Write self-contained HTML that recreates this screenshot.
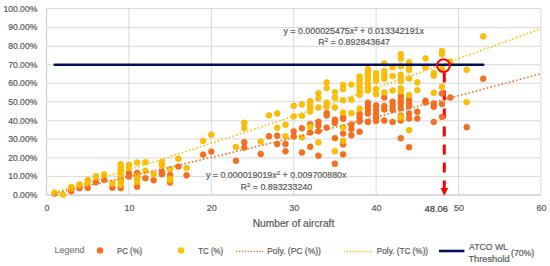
<!DOCTYPE html>
<html><head><meta charset="utf-8"><style>
html,body{margin:0;padding:0;background:#fff;width:550px;height:266px;overflow:hidden}
svg{display:block;font-family:"Liberation Sans", sans-serif}
</style></head><body>
<svg width="550" height="266" viewBox="0 0 550 266">
<rect width="550" height="266" fill="#fff"/>
<line x1="46.5" y1="195.10" x2="540.90" y2="195.10" stroke="#D9D9D9" stroke-width="1"/>
<line x1="46.5" y1="176.40" x2="540.90" y2="176.40" stroke="#D9D9D9" stroke-width="1"/>
<line x1="46.5" y1="157.90" x2="540.90" y2="157.90" stroke="#D9D9D9" stroke-width="1"/>
<line x1="46.5" y1="138.90" x2="540.90" y2="138.90" stroke="#D9D9D9" stroke-width="1"/>
<line x1="46.5" y1="120.80" x2="540.90" y2="120.80" stroke="#D9D9D9" stroke-width="1"/>
<line x1="46.5" y1="101.70" x2="540.90" y2="101.70" stroke="#D9D9D9" stroke-width="1"/>
<line x1="46.5" y1="83.30" x2="540.90" y2="83.30" stroke="#D9D9D9" stroke-width="1"/>
<line x1="46.5" y1="64.70" x2="540.90" y2="64.70" stroke="#D9D9D9" stroke-width="1"/>
<line x1="46.5" y1="46.30" x2="540.90" y2="46.30" stroke="#D9D9D9" stroke-width="1"/>
<line x1="46.5" y1="27.50" x2="540.90" y2="27.50" stroke="#D9D9D9" stroke-width="1"/>
<line x1="46.5" y1="8.50" x2="540.90" y2="8.50" stroke="#D9D9D9" stroke-width="1"/>
<rect x="205.5" y="175" width="141.5" height="2.8" fill="#fff"/>
<line x1="128.90" y1="8.50" x2="128.90" y2="195.0" stroke="#D9D9D9" stroke-width="1"/>
<line x1="211.30" y1="8.50" x2="211.30" y2="195.0" stroke="#D9D9D9" stroke-width="1"/>
<line x1="293.70" y1="8.50" x2="293.70" y2="195.0" stroke="#D9D9D9" stroke-width="1"/>
<line x1="376.10" y1="8.50" x2="376.10" y2="195.0" stroke="#D9D9D9" stroke-width="1"/>
<line x1="458.50" y1="8.50" x2="458.50" y2="195.0" stroke="#D9D9D9" stroke-width="1"/>
<line x1="540.90" y1="8.50" x2="540.90" y2="195.0" stroke="#D9D9D9" stroke-width="1"/>
<line x1="46.5" y1="8.50" x2="46.5" y2="195.0" stroke="#C8C8C8" stroke-width="1"/>
<line x1="46.5" y1="195.0" x2="540.90" y2="195.0" stroke="#C8C8C8" stroke-width="1"/>
<line x1="444.3" y1="72.5" x2="444.3" y2="189" stroke="#FF0000" stroke-width="3" stroke-dasharray="10 8"/>
<circle cx="54.7" cy="193.5" r="2.95" fill="#FA6F1E" stroke="#E8600F" stroke-width="0.5"/>
<circle cx="71.2" cy="191.2" r="2.95" fill="#FA6F1E" stroke="#E8600F" stroke-width="0.5"/>
<circle cx="79.5" cy="188.2" r="2.95" fill="#FA6F1E" stroke="#E8600F" stroke-width="0.5"/>
<circle cx="87.7" cy="187.9" r="2.95" fill="#FA6F1E" stroke="#E8600F" stroke-width="0.5"/>
<circle cx="95.9" cy="182.3" r="2.95" fill="#FA6F1E" stroke="#E8600F" stroke-width="0.5"/>
<circle cx="104.2" cy="179.8" r="2.95" fill="#FA6F1E" stroke="#E8600F" stroke-width="0.5"/>
<circle cx="112.4" cy="187.8" r="2.95" fill="#FA6F1E" stroke="#E8600F" stroke-width="0.5"/>
<circle cx="120.7" cy="188.1" r="2.95" fill="#FA6F1E" stroke="#E8600F" stroke-width="0.5"/>
<circle cx="120.7" cy="180" r="2.95" fill="#FA6F1E" stroke="#E8600F" stroke-width="0.5"/>
<circle cx="128.9" cy="173.2" r="2.95" fill="#FA6F1E" stroke="#E8600F" stroke-width="0.5"/>
<circle cx="128.9" cy="176.5" r="2.95" fill="#FA6F1E" stroke="#E8600F" stroke-width="0.5"/>
<circle cx="137.1" cy="172.9" r="2.95" fill="#FA6F1E" stroke="#E8600F" stroke-width="0.5"/>
<circle cx="137.1" cy="176.5" r="2.95" fill="#FA6F1E" stroke="#E8600F" stroke-width="0.5"/>
<circle cx="137.1" cy="186.8" r="2.95" fill="#FA6F1E" stroke="#E8600F" stroke-width="0.5"/>
<circle cx="145.4" cy="178.2" r="2.95" fill="#FA6F1E" stroke="#E8600F" stroke-width="0.5"/>
<circle cx="153.6" cy="180.2" r="2.95" fill="#FA6F1E" stroke="#E8600F" stroke-width="0.5"/>
<circle cx="161.9" cy="171.8" r="2.95" fill="#FA6F1E" stroke="#E8600F" stroke-width="0.5"/>
<circle cx="161.9" cy="174.2" r="2.95" fill="#FA6F1E" stroke="#E8600F" stroke-width="0.5"/>
<circle cx="170.1" cy="175" r="2.95" fill="#FA6F1E" stroke="#E8600F" stroke-width="0.5"/>
<circle cx="170.1" cy="182.6" r="2.95" fill="#FA6F1E" stroke="#E8600F" stroke-width="0.5"/>
<circle cx="178.3" cy="166.6" r="2.95" fill="#FA6F1E" stroke="#E8600F" stroke-width="0.5"/>
<circle cx="186.6" cy="175.3" r="2.95" fill="#FA6F1E" stroke="#E8600F" stroke-width="0.5"/>
<circle cx="203.1" cy="154.6" r="2.95" fill="#FA6F1E" stroke="#E8600F" stroke-width="0.5"/>
<circle cx="211.3" cy="151.6" r="2.95" fill="#FA6F1E" stroke="#E8600F" stroke-width="0.5"/>
<circle cx="236.0" cy="160.8" r="2.95" fill="#FA6F1E" stroke="#E8600F" stroke-width="0.5"/>
<circle cx="244.3" cy="142.2" r="2.95" fill="#FA6F1E" stroke="#E8600F" stroke-width="0.5"/>
<circle cx="244.3" cy="147.6" r="2.95" fill="#FA6F1E" stroke="#E8600F" stroke-width="0.5"/>
<circle cx="260.7" cy="154" r="2.95" fill="#FA6F1E" stroke="#E8600F" stroke-width="0.5"/>
<circle cx="269.0" cy="136.3" r="2.95" fill="#FA6F1E" stroke="#E8600F" stroke-width="0.5"/>
<circle cx="277.2" cy="135.8" r="2.95" fill="#FA6F1E" stroke="#E8600F" stroke-width="0.5"/>
<circle cx="277.2" cy="144" r="2.95" fill="#FA6F1E" stroke="#E8600F" stroke-width="0.5"/>
<circle cx="285.5" cy="143.9" r="2.95" fill="#FA6F1E" stroke="#E8600F" stroke-width="0.5"/>
<circle cx="285.5" cy="151.2" r="2.95" fill="#FA6F1E" stroke="#E8600F" stroke-width="0.5"/>
<circle cx="293.7" cy="131.4" r="2.95" fill="#FA6F1E" stroke="#E8600F" stroke-width="0.5"/>
<circle cx="293.7" cy="136.6" r="2.95" fill="#FA6F1E" stroke="#E8600F" stroke-width="0.5"/>
<circle cx="301.9" cy="128.3" r="2.95" fill="#FA6F1E" stroke="#E8600F" stroke-width="0.5"/>
<circle cx="301.9" cy="152.5" r="2.95" fill="#FA6F1E" stroke="#E8600F" stroke-width="0.5"/>
<circle cx="310.2" cy="124.2" r="2.95" fill="#FA6F1E" stroke="#E8600F" stroke-width="0.5"/>
<circle cx="310.2" cy="132.5" r="2.95" fill="#FA6F1E" stroke="#E8600F" stroke-width="0.5"/>
<circle cx="310.2" cy="146.8" r="2.95" fill="#FA6F1E" stroke="#E8600F" stroke-width="0.5"/>
<circle cx="318.4" cy="121.7" r="2.95" fill="#FA6F1E" stroke="#E8600F" stroke-width="0.5"/>
<circle cx="318.4" cy="125.5" r="2.95" fill="#FA6F1E" stroke="#E8600F" stroke-width="0.5"/>
<circle cx="318.4" cy="131.3" r="2.95" fill="#FA6F1E" stroke="#E8600F" stroke-width="0.5"/>
<circle cx="318.4" cy="155.7" r="2.95" fill="#FA6F1E" stroke="#E8600F" stroke-width="0.5"/>
<circle cx="326.7" cy="113" r="2.95" fill="#FA6F1E" stroke="#E8600F" stroke-width="0.5"/>
<circle cx="326.7" cy="115.5" r="2.95" fill="#FA6F1E" stroke="#E8600F" stroke-width="0.5"/>
<circle cx="326.7" cy="127.6" r="2.95" fill="#FA6F1E" stroke="#E8600F" stroke-width="0.5"/>
<circle cx="334.9" cy="119.7" r="2.95" fill="#FA6F1E" stroke="#E8600F" stroke-width="0.5"/>
<circle cx="334.9" cy="123" r="2.95" fill="#FA6F1E" stroke="#E8600F" stroke-width="0.5"/>
<circle cx="334.9" cy="138.1" r="2.95" fill="#FA6F1E" stroke="#E8600F" stroke-width="0.5"/>
<circle cx="334.9" cy="163.7" r="2.95" fill="#FA6F1E" stroke="#E8600F" stroke-width="0.5"/>
<circle cx="343.1" cy="117.4" r="2.95" fill="#FA6F1E" stroke="#E8600F" stroke-width="0.5"/>
<circle cx="343.1" cy="118.8" r="2.95" fill="#FA6F1E" stroke="#E8600F" stroke-width="0.5"/>
<circle cx="343.1" cy="133.6" r="2.95" fill="#FA6F1E" stroke="#E8600F" stroke-width="0.5"/>
<circle cx="343.1" cy="144.4" r="2.95" fill="#FA6F1E" stroke="#E8600F" stroke-width="0.5"/>
<circle cx="343.1" cy="154.4" r="2.95" fill="#FA6F1E" stroke="#E8600F" stroke-width="0.5"/>
<circle cx="351.4" cy="124.4" r="2.95" fill="#FA6F1E" stroke="#E8600F" stroke-width="0.5"/>
<circle cx="351.4" cy="129.1" r="2.95" fill="#FA6F1E" stroke="#E8600F" stroke-width="0.5"/>
<circle cx="351.4" cy="135.3" r="2.95" fill="#FA6F1E" stroke="#E8600F" stroke-width="0.5"/>
<circle cx="359.6" cy="113.9" r="2.95" fill="#FA6F1E" stroke="#E8600F" stroke-width="0.5"/>
<circle cx="359.6" cy="117.5" r="2.95" fill="#FA6F1E" stroke="#E8600F" stroke-width="0.5"/>
<circle cx="359.6" cy="121.5" r="2.95" fill="#FA6F1E" stroke="#E8600F" stroke-width="0.5"/>
<circle cx="359.6" cy="131.7" r="2.95" fill="#FA6F1E" stroke="#E8600F" stroke-width="0.5"/>
<circle cx="367.9" cy="102.8" r="2.95" fill="#FA6F1E" stroke="#E8600F" stroke-width="0.5"/>
<circle cx="367.9" cy="106.4" r="2.95" fill="#FA6F1E" stroke="#E8600F" stroke-width="0.5"/>
<circle cx="367.9" cy="110" r="2.95" fill="#FA6F1E" stroke="#E8600F" stroke-width="0.5"/>
<circle cx="367.9" cy="113.6" r="2.95" fill="#FA6F1E" stroke="#E8600F" stroke-width="0.5"/>
<circle cx="367.9" cy="122" r="2.95" fill="#FA6F1E" stroke="#E8600F" stroke-width="0.5"/>
<circle cx="376.1" cy="105.5" r="2.95" fill="#FA6F1E" stroke="#E8600F" stroke-width="0.5"/>
<circle cx="376.1" cy="109.8" r="2.95" fill="#FA6F1E" stroke="#E8600F" stroke-width="0.5"/>
<circle cx="376.1" cy="113.5" r="2.95" fill="#FA6F1E" stroke="#E8600F" stroke-width="0.5"/>
<circle cx="376.1" cy="117.5" r="2.95" fill="#FA6F1E" stroke="#E8600F" stroke-width="0.5"/>
<circle cx="376.1" cy="121" r="2.95" fill="#FA6F1E" stroke="#E8600F" stroke-width="0.5"/>
<circle cx="384.3" cy="97.5" r="2.95" fill="#FA6F1E" stroke="#E8600F" stroke-width="0.5"/>
<circle cx="384.3" cy="106" r="2.95" fill="#FA6F1E" stroke="#E8600F" stroke-width="0.5"/>
<circle cx="384.3" cy="109.5" r="2.95" fill="#FA6F1E" stroke="#E8600F" stroke-width="0.5"/>
<circle cx="384.3" cy="120.5" r="2.95" fill="#FA6F1E" stroke="#E8600F" stroke-width="0.5"/>
<circle cx="392.6" cy="101.8" r="2.95" fill="#FA6F1E" stroke="#E8600F" stroke-width="0.5"/>
<circle cx="392.6" cy="105.7" r="2.95" fill="#FA6F1E" stroke="#E8600F" stroke-width="0.5"/>
<circle cx="392.6" cy="109.8" r="2.95" fill="#FA6F1E" stroke="#E8600F" stroke-width="0.5"/>
<circle cx="392.6" cy="122" r="2.95" fill="#FA6F1E" stroke="#E8600F" stroke-width="0.5"/>
<circle cx="400.8" cy="96" r="2.95" fill="#FA6F1E" stroke="#E8600F" stroke-width="0.5"/>
<circle cx="400.8" cy="99.7" r="2.95" fill="#FA6F1E" stroke="#E8600F" stroke-width="0.5"/>
<circle cx="400.8" cy="103.5" r="2.95" fill="#FA6F1E" stroke="#E8600F" stroke-width="0.5"/>
<circle cx="400.8" cy="108.2" r="2.95" fill="#FA6F1E" stroke="#E8600F" stroke-width="0.5"/>
<circle cx="400.8" cy="115.6" r="2.95" fill="#FA6F1E" stroke="#E8600F" stroke-width="0.5"/>
<circle cx="400.8" cy="120.6" r="2.95" fill="#FA6F1E" stroke="#E8600F" stroke-width="0.5"/>
<circle cx="400.8" cy="138.3" r="2.95" fill="#FA6F1E" stroke="#E8600F" stroke-width="0.5"/>
<circle cx="409.1" cy="99.7" r="2.95" fill="#FA6F1E" stroke="#E8600F" stroke-width="0.5"/>
<circle cx="409.1" cy="103.5" r="2.95" fill="#FA6F1E" stroke="#E8600F" stroke-width="0.5"/>
<circle cx="409.1" cy="106.3" r="2.95" fill="#FA6F1E" stroke="#E8600F" stroke-width="0.5"/>
<circle cx="409.1" cy="113.5" r="2.95" fill="#FA6F1E" stroke="#E8600F" stroke-width="0.5"/>
<circle cx="409.1" cy="118.5" r="2.95" fill="#FA6F1E" stroke="#E8600F" stroke-width="0.5"/>
<circle cx="409.1" cy="147.2" r="2.95" fill="#FA6F1E" stroke="#E8600F" stroke-width="0.5"/>
<circle cx="417.3" cy="111.8" r="2.95" fill="#FA6F1E" stroke="#E8600F" stroke-width="0.5"/>
<circle cx="417.3" cy="118.5" r="2.95" fill="#FA6F1E" stroke="#E8600F" stroke-width="0.5"/>
<circle cx="425.5" cy="100.7" r="2.95" fill="#FA6F1E" stroke="#E8600F" stroke-width="0.5"/>
<circle cx="425.5" cy="102.6" r="2.95" fill="#FA6F1E" stroke="#E8600F" stroke-width="0.5"/>
<circle cx="433.8" cy="103.5" r="2.95" fill="#FA6F1E" stroke="#E8600F" stroke-width="0.5"/>
<circle cx="433.8" cy="106.7" r="2.95" fill="#FA6F1E" stroke="#E8600F" stroke-width="0.5"/>
<circle cx="433.8" cy="121.9" r="2.95" fill="#FA6F1E" stroke="#E8600F" stroke-width="0.5"/>
<circle cx="442.0" cy="93.5" r="2.95" fill="#FA6F1E" stroke="#E8600F" stroke-width="0.5"/>
<circle cx="442.0" cy="104.1" r="2.95" fill="#FA6F1E" stroke="#E8600F" stroke-width="0.5"/>
<circle cx="442.0" cy="116.9" r="2.95" fill="#FA6F1E" stroke="#E8600F" stroke-width="0.5"/>
<circle cx="450.3" cy="97.5" r="2.95" fill="#FA6F1E" stroke="#E8600F" stroke-width="0.5"/>
<circle cx="466.7" cy="127.2" r="2.95" fill="#FA6F1E" stroke="#E8600F" stroke-width="0.5"/>
<circle cx="483.2" cy="78.8" r="2.95" fill="#FA6F1E" stroke="#E8600F" stroke-width="0.5"/>
<circle cx="54.7" cy="192.6" r="2.95" fill="#FFC000" stroke="#F5AC00" stroke-width="0.5"/>
<circle cx="63.0" cy="194.6" r="2.95" fill="#FFC000" stroke="#F5AC00" stroke-width="0.5"/>
<circle cx="71.2" cy="187" r="2.95" fill="#FFC000" stroke="#F5AC00" stroke-width="0.5"/>
<circle cx="71.2" cy="188.6" r="2.95" fill="#FFC000" stroke="#F5AC00" stroke-width="0.5"/>
<circle cx="79.5" cy="184.4" r="2.95" fill="#FFC000" stroke="#F5AC00" stroke-width="0.5"/>
<circle cx="79.5" cy="185.6" r="2.95" fill="#FFC000" stroke="#F5AC00" stroke-width="0.5"/>
<circle cx="87.7" cy="180" r="2.95" fill="#FFC000" stroke="#F5AC00" stroke-width="0.5"/>
<circle cx="87.7" cy="183.6" r="2.95" fill="#FFC000" stroke="#F5AC00" stroke-width="0.5"/>
<circle cx="95.9" cy="176.3" r="2.95" fill="#FFC000" stroke="#F5AC00" stroke-width="0.5"/>
<circle cx="104.2" cy="174.4" r="2.95" fill="#FFC000" stroke="#F5AC00" stroke-width="0.5"/>
<circle cx="112.4" cy="183.5" r="2.95" fill="#FFC000" stroke="#F5AC00" stroke-width="0.5"/>
<circle cx="120.7" cy="164.3" r="2.95" fill="#FFC000" stroke="#F5AC00" stroke-width="0.5"/>
<circle cx="120.7" cy="167" r="2.95" fill="#FFC000" stroke="#F5AC00" stroke-width="0.5"/>
<circle cx="120.7" cy="170" r="2.95" fill="#FFC000" stroke="#F5AC00" stroke-width="0.5"/>
<circle cx="120.7" cy="173.8" r="2.95" fill="#FFC000" stroke="#F5AC00" stroke-width="0.5"/>
<circle cx="120.7" cy="176.8" r="2.95" fill="#FFC000" stroke="#F5AC00" stroke-width="0.5"/>
<circle cx="120.7" cy="179.8" r="2.95" fill="#FFC000" stroke="#F5AC00" stroke-width="0.5"/>
<circle cx="120.7" cy="182.8" r="2.95" fill="#FFC000" stroke="#F5AC00" stroke-width="0.5"/>
<circle cx="120.7" cy="185" r="2.95" fill="#FFC000" stroke="#F5AC00" stroke-width="0.5"/>
<circle cx="128.9" cy="164.8" r="2.95" fill="#FFC000" stroke="#F5AC00" stroke-width="0.5"/>
<circle cx="128.9" cy="167.8" r="2.95" fill="#FFC000" stroke="#F5AC00" stroke-width="0.5"/>
<circle cx="137.1" cy="162.5" r="2.95" fill="#FFC000" stroke="#F5AC00" stroke-width="0.5"/>
<circle cx="137.1" cy="176" r="2.95" fill="#FFC000" stroke="#F5AC00" stroke-width="0.5"/>
<circle cx="137.1" cy="179" r="2.95" fill="#FFC000" stroke="#F5AC00" stroke-width="0.5"/>
<circle cx="137.1" cy="182" r="2.95" fill="#FFC000" stroke="#F5AC00" stroke-width="0.5"/>
<circle cx="145.4" cy="162.2" r="2.95" fill="#FFC000" stroke="#F5AC00" stroke-width="0.5"/>
<circle cx="145.4" cy="170.8" r="2.95" fill="#FFC000" stroke="#F5AC00" stroke-width="0.5"/>
<circle cx="153.6" cy="174.1" r="2.95" fill="#FFC000" stroke="#F5AC00" stroke-width="0.5"/>
<circle cx="161.9" cy="161.9" r="2.95" fill="#FFC000" stroke="#F5AC00" stroke-width="0.5"/>
<circle cx="161.9" cy="165.4" r="2.95" fill="#FFC000" stroke="#F5AC00" stroke-width="0.5"/>
<circle cx="170.1" cy="169.3" r="2.95" fill="#FFC000" stroke="#F5AC00" stroke-width="0.5"/>
<circle cx="170.1" cy="178.6" r="2.95" fill="#FFC000" stroke="#F5AC00" stroke-width="0.5"/>
<circle cx="170.1" cy="180.3" r="2.95" fill="#FFC000" stroke="#F5AC00" stroke-width="0.5"/>
<circle cx="178.3" cy="158.8" r="2.95" fill="#FFC000" stroke="#F5AC00" stroke-width="0.5"/>
<circle cx="186.6" cy="168.1" r="2.95" fill="#FFC000" stroke="#F5AC00" stroke-width="0.5"/>
<circle cx="203.1" cy="140.9" r="2.95" fill="#FFC000" stroke="#F5AC00" stroke-width="0.5"/>
<circle cx="211.3" cy="134.7" r="2.95" fill="#FFC000" stroke="#F5AC00" stroke-width="0.5"/>
<circle cx="236.0" cy="147" r="2.95" fill="#FFC000" stroke="#F5AC00" stroke-width="0.5"/>
<circle cx="244.3" cy="122.9" r="2.95" fill="#FFC000" stroke="#F5AC00" stroke-width="0.5"/>
<circle cx="244.3" cy="128.0" r="2.95" fill="#FFC000" stroke="#F5AC00" stroke-width="0.5"/>
<circle cx="260.7" cy="141.6" r="2.95" fill="#FFC000" stroke="#F5AC00" stroke-width="0.5"/>
<circle cx="269.0" cy="115.4" r="2.95" fill="#FFC000" stroke="#F5AC00" stroke-width="0.5"/>
<circle cx="277.2" cy="113.5" r="2.95" fill="#FFC000" stroke="#F5AC00" stroke-width="0.5"/>
<circle cx="277.2" cy="127.8" r="2.95" fill="#FFC000" stroke="#F5AC00" stroke-width="0.5"/>
<circle cx="285.5" cy="124.8" r="2.95" fill="#FFC000" stroke="#F5AC00" stroke-width="0.5"/>
<circle cx="285.5" cy="136.3" r="2.95" fill="#FFC000" stroke="#F5AC00" stroke-width="0.5"/>
<circle cx="293.7" cy="105.8" r="2.95" fill="#FFC000" stroke="#F5AC00" stroke-width="0.5"/>
<circle cx="293.7" cy="116.4" r="2.95" fill="#FFC000" stroke="#F5AC00" stroke-width="0.5"/>
<circle cx="301.9" cy="104.4" r="2.95" fill="#FFC000" stroke="#F5AC00" stroke-width="0.5"/>
<circle cx="301.9" cy="115.8" r="2.95" fill="#FFC000" stroke="#F5AC00" stroke-width="0.5"/>
<circle cx="301.9" cy="137.5" r="2.95" fill="#FFC000" stroke="#F5AC00" stroke-width="0.5"/>
<circle cx="310.2" cy="101.2" r="2.95" fill="#FFC000" stroke="#F5AC00" stroke-width="0.5"/>
<circle cx="310.2" cy="104.6" r="2.95" fill="#FFC000" stroke="#F5AC00" stroke-width="0.5"/>
<circle cx="310.2" cy="108.1" r="2.95" fill="#FFC000" stroke="#F5AC00" stroke-width="0.5"/>
<circle cx="310.2" cy="111.6" r="2.95" fill="#FFC000" stroke="#F5AC00" stroke-width="0.5"/>
<circle cx="310.2" cy="126.7" r="2.95" fill="#FFC000" stroke="#F5AC00" stroke-width="0.5"/>
<circle cx="318.4" cy="93.1" r="2.95" fill="#FFC000" stroke="#F5AC00" stroke-width="0.5"/>
<circle cx="318.4" cy="98.2" r="2.95" fill="#FFC000" stroke="#F5AC00" stroke-width="0.5"/>
<circle cx="318.4" cy="107.5" r="2.95" fill="#FFC000" stroke="#F5AC00" stroke-width="0.5"/>
<circle cx="318.4" cy="142.4" r="2.95" fill="#FFC000" stroke="#F5AC00" stroke-width="0.5"/>
<circle cx="326.7" cy="82.4" r="2.95" fill="#FFC000" stroke="#F5AC00" stroke-width="0.5"/>
<circle cx="326.7" cy="88.1" r="2.95" fill="#FFC000" stroke="#F5AC00" stroke-width="0.5"/>
<circle cx="326.7" cy="102.7" r="2.95" fill="#FFC000" stroke="#F5AC00" stroke-width="0.5"/>
<circle cx="326.7" cy="106.5" r="2.95" fill="#FFC000" stroke="#F5AC00" stroke-width="0.5"/>
<circle cx="334.9" cy="92.1" r="2.95" fill="#FFC000" stroke="#F5AC00" stroke-width="0.5"/>
<circle cx="334.9" cy="97.8" r="2.95" fill="#FFC000" stroke="#F5AC00" stroke-width="0.5"/>
<circle cx="334.9" cy="107.5" r="2.95" fill="#FFC000" stroke="#F5AC00" stroke-width="0.5"/>
<circle cx="334.9" cy="151.3" r="2.95" fill="#FFC000" stroke="#F5AC00" stroke-width="0.5"/>
<circle cx="343.1" cy="85" r="2.95" fill="#FFC000" stroke="#F5AC00" stroke-width="0.5"/>
<circle cx="343.1" cy="89" r="2.95" fill="#FFC000" stroke="#F5AC00" stroke-width="0.5"/>
<circle cx="343.1" cy="100.2" r="2.95" fill="#FFC000" stroke="#F5AC00" stroke-width="0.5"/>
<circle cx="343.1" cy="112.5" r="2.95" fill="#FFC000" stroke="#F5AC00" stroke-width="0.5"/>
<circle cx="343.1" cy="127.3" r="2.95" fill="#FFC000" stroke="#F5AC00" stroke-width="0.5"/>
<circle cx="343.1" cy="141" r="2.95" fill="#FFC000" stroke="#F5AC00" stroke-width="0.5"/>
<circle cx="351.4" cy="84.6" r="2.95" fill="#FFC000" stroke="#F5AC00" stroke-width="0.5"/>
<circle cx="351.4" cy="99.6" r="2.95" fill="#FFC000" stroke="#F5AC00" stroke-width="0.5"/>
<circle cx="351.4" cy="113.2" r="2.95" fill="#FFC000" stroke="#F5AC00" stroke-width="0.5"/>
<circle cx="359.6" cy="76.5" r="2.95" fill="#FFC000" stroke="#F5AC00" stroke-width="0.5"/>
<circle cx="359.6" cy="79.7" r="2.95" fill="#FFC000" stroke="#F5AC00" stroke-width="0.5"/>
<circle cx="359.6" cy="83.5" r="2.95" fill="#FFC000" stroke="#F5AC00" stroke-width="0.5"/>
<circle cx="359.6" cy="87.3" r="2.95" fill="#FFC000" stroke="#F5AC00" stroke-width="0.5"/>
<circle cx="359.6" cy="91" r="2.95" fill="#FFC000" stroke="#F5AC00" stroke-width="0.5"/>
<circle cx="359.6" cy="94.8" r="2.95" fill="#FFC000" stroke="#F5AC00" stroke-width="0.5"/>
<circle cx="359.6" cy="108.6" r="2.95" fill="#FFC000" stroke="#F5AC00" stroke-width="0.5"/>
<circle cx="367.9" cy="69" r="2.95" fill="#FFC000" stroke="#F5AC00" stroke-width="0.5"/>
<circle cx="367.9" cy="72.2" r="2.95" fill="#FFC000" stroke="#F5AC00" stroke-width="0.5"/>
<circle cx="367.9" cy="76" r="2.95" fill="#FFC000" stroke="#F5AC00" stroke-width="0.5"/>
<circle cx="367.9" cy="79.7" r="2.95" fill="#FFC000" stroke="#F5AC00" stroke-width="0.5"/>
<circle cx="367.9" cy="83.5" r="2.95" fill="#FFC000" stroke="#F5AC00" stroke-width="0.5"/>
<circle cx="367.9" cy="87.3" r="2.95" fill="#FFC000" stroke="#F5AC00" stroke-width="0.5"/>
<circle cx="367.9" cy="90.5" r="2.95" fill="#FFC000" stroke="#F5AC00" stroke-width="0.5"/>
<circle cx="376.1" cy="73.2" r="2.95" fill="#FFC000" stroke="#F5AC00" stroke-width="0.5"/>
<circle cx="376.1" cy="76.9" r="2.95" fill="#FFC000" stroke="#F5AC00" stroke-width="0.5"/>
<circle cx="376.1" cy="80.7" r="2.95" fill="#FFC000" stroke="#F5AC00" stroke-width="0.5"/>
<circle cx="376.1" cy="89.1" r="2.95" fill="#FFC000" stroke="#F5AC00" stroke-width="0.5"/>
<circle cx="376.1" cy="94.2" r="2.95" fill="#FFC000" stroke="#F5AC00" stroke-width="0.5"/>
<circle cx="384.3" cy="63.4" r="2.95" fill="#FFC000" stroke="#F5AC00" stroke-width="0.5"/>
<circle cx="384.3" cy="71.3" r="2.95" fill="#FFC000" stroke="#F5AC00" stroke-width="0.5"/>
<circle cx="384.3" cy="75" r="2.95" fill="#FFC000" stroke="#F5AC00" stroke-width="0.5"/>
<circle cx="384.3" cy="78.7" r="2.95" fill="#FFC000" stroke="#F5AC00" stroke-width="0.5"/>
<circle cx="384.3" cy="92.5" r="2.95" fill="#FFC000" stroke="#F5AC00" stroke-width="0.5"/>
<circle cx="392.6" cy="67.3" r="2.95" fill="#FFC000" stroke="#F5AC00" stroke-width="0.5"/>
<circle cx="392.6" cy="76.1" r="2.95" fill="#FFC000" stroke="#F5AC00" stroke-width="0.5"/>
<circle cx="392.6" cy="90.5" r="2.95" fill="#FFC000" stroke="#F5AC00" stroke-width="0.5"/>
<circle cx="400.8" cy="54.1" r="2.95" fill="#FFC000" stroke="#F5AC00" stroke-width="0.5"/>
<circle cx="400.8" cy="58.8" r="2.95" fill="#FFC000" stroke="#F5AC00" stroke-width="0.5"/>
<circle cx="400.8" cy="66.3" r="2.95" fill="#FFC000" stroke="#F5AC00" stroke-width="0.5"/>
<circle cx="400.8" cy="74.8" r="2.95" fill="#FFC000" stroke="#F5AC00" stroke-width="0.5"/>
<circle cx="400.8" cy="79.5" r="2.95" fill="#FFC000" stroke="#F5AC00" stroke-width="0.5"/>
<circle cx="400.8" cy="81" r="2.95" fill="#FFC000" stroke="#F5AC00" stroke-width="0.5"/>
<circle cx="400.8" cy="88.3" r="2.95" fill="#FFC000" stroke="#F5AC00" stroke-width="0.5"/>
<circle cx="400.8" cy="91.3" r="2.95" fill="#FFC000" stroke="#F5AC00" stroke-width="0.5"/>
<circle cx="400.8" cy="116.7" r="2.95" fill="#FFC000" stroke="#F5AC00" stroke-width="0.5"/>
<circle cx="400.8" cy="117.9" r="2.95" fill="#FFC000" stroke="#F5AC00" stroke-width="0.5"/>
<circle cx="409.1" cy="62.2" r="2.95" fill="#FFC000" stroke="#F5AC00" stroke-width="0.5"/>
<circle cx="409.1" cy="66.3" r="2.95" fill="#FFC000" stroke="#F5AC00" stroke-width="0.5"/>
<circle cx="409.1" cy="70.1" r="2.95" fill="#FFC000" stroke="#F5AC00" stroke-width="0.5"/>
<circle cx="409.1" cy="78.5" r="2.95" fill="#FFC000" stroke="#F5AC00" stroke-width="0.5"/>
<circle cx="409.1" cy="95" r="2.95" fill="#FFC000" stroke="#F5AC00" stroke-width="0.5"/>
<circle cx="409.1" cy="130.3" r="2.95" fill="#FFC000" stroke="#F5AC00" stroke-width="0.5"/>
<circle cx="417.3" cy="82.3" r="2.95" fill="#FFC000" stroke="#F5AC00" stroke-width="0.5"/>
<circle cx="417.3" cy="90.3" r="2.95" fill="#FFC000" stroke="#F5AC00" stroke-width="0.5"/>
<circle cx="425.5" cy="58.4" r="2.95" fill="#FFC000" stroke="#F5AC00" stroke-width="0.5"/>
<circle cx="425.5" cy="67.3" r="2.95" fill="#FFC000" stroke="#F5AC00" stroke-width="0.5"/>
<circle cx="433.8" cy="72.9" r="2.95" fill="#FFC000" stroke="#F5AC00" stroke-width="0.5"/>
<circle cx="433.8" cy="75.7" r="2.95" fill="#FFC000" stroke="#F5AC00" stroke-width="0.5"/>
<circle cx="433.8" cy="92.8" r="2.95" fill="#FFC000" stroke="#F5AC00" stroke-width="0.5"/>
<circle cx="442.0" cy="50.9" r="2.95" fill="#FFC000" stroke="#F5AC00" stroke-width="0.5"/>
<circle cx="442.0" cy="54.1" r="2.95" fill="#FFC000" stroke="#F5AC00" stroke-width="0.5"/>
<circle cx="442.0" cy="68.6" r="2.95" fill="#FFC000" stroke="#F5AC00" stroke-width="0.5"/>
<circle cx="442.0" cy="86.8" r="2.95" fill="#FFC000" stroke="#F5AC00" stroke-width="0.5"/>
<circle cx="450.3" cy="61.7" r="2.95" fill="#FFC000" stroke="#F5AC00" stroke-width="0.5"/>
<circle cx="466.7" cy="69.8" r="2.95" fill="#FFC000" stroke="#F5AC00" stroke-width="0.5"/>
<circle cx="466.7" cy="102.1" r="2.95" fill="#FFC000" stroke="#F5AC00" stroke-width="0.5"/>
<circle cx="483.2" cy="36.4" r="2.95" fill="#FFC000" stroke="#F5AC00" stroke-width="0.5"/>
<polyline points="54.74,193.19 62.98,191.37 71.22,189.54 79.46,187.71 87.70,185.87 95.94,184.02 104.18,182.16 112.42,180.30 120.66,178.43 128.90,176.55 137.14,174.67 145.38,172.78 153.62,170.88 161.86,168.98 170.10,167.06 178.34,165.14 186.58,163.22 194.82,161.28 203.06,159.34 211.30,157.40 219.54,155.44 227.78,153.48 236.02,151.51 244.26,149.54 252.50,147.55 260.74,145.56 268.98,143.57 277.22,141.56 285.46,139.55 293.70,137.53 301.94,135.51 310.18,133.47 318.42,131.43 326.66,129.39 334.90,127.33 343.14,125.27 351.38,123.20 359.62,121.13 367.86,119.05 376.10,116.96 384.34,114.86 392.58,112.76 400.82,110.65 409.06,108.53 417.30,106.40 425.54,104.27 433.78,102.13 442.02,99.99 450.26,97.83 458.50,95.67 466.74,93.50 474.98,91.33 483.22,89.15 491.46,86.96 499.70,84.76 507.94,82.56 516.18,80.35 524.42,78.13 532.66,75.91 540.90,73.68" fill="none" stroke="#FA6F1E" stroke-width="1.6" stroke-dasharray="1.6 2.2"/>
<polyline points="54.74,192.51 62.98,190.00 71.22,187.49 79.46,184.97 87.70,182.44 95.94,179.90 104.18,177.35 112.42,174.79 120.66,172.22 128.90,169.64 137.14,167.05 145.38,164.46 153.62,161.85 161.86,159.23 170.10,156.61 178.34,153.97 186.58,151.33 194.82,148.67 203.06,146.01 211.30,143.33 219.54,140.65 227.78,137.96 236.02,135.26 244.26,132.54 252.50,129.82 260.74,127.09 268.98,124.35 277.22,121.60 285.46,118.84 293.70,116.07 301.94,113.30 310.18,110.51 318.42,107.71 326.66,104.90 334.90,102.09 343.14,99.26 351.38,96.43 359.62,93.58 367.86,90.73 376.10,87.87 384.34,84.99 392.58,82.11 400.82,79.22 409.06,76.32 417.30,73.40 425.54,70.48 433.78,67.55 442.02,64.61 450.26,61.67 458.50,58.71 466.74,55.74 474.98,52.76 483.22,49.77 491.46,46.78 499.70,43.77 507.94,40.75 516.18,37.73 524.42,34.69 532.66,31.65 540.90,28.60" fill="none" stroke="#FFC000" stroke-width="1.6" stroke-dasharray="1.6 2.2"/>
<line x1="54.74" y1="64.8" x2="483.22" y2="64.8" stroke="#030D58" stroke-width="2.6" stroke-linecap="round"/>
<circle cx="443.5" cy="65.55" r="6.4" fill="none" stroke="#FF0000" stroke-width="2.0"/>
<polygon points="440.5,188 448.1,188 444.3,195.8" fill="#FF0000"/>
<text transform="translate(37.3,198.05) scale(1,1.08)" text-anchor="end" font-size="8.6" fill="#595959" stroke="#595959" stroke-width="0.2">0.00%</text>
<text transform="translate(37.3,179.35) scale(1,1.08)" text-anchor="end" font-size="8.6" fill="#595959" stroke="#595959" stroke-width="0.2">10.00%</text>
<text transform="translate(37.3,160.85) scale(1,1.08)" text-anchor="end" font-size="8.6" fill="#595959" stroke="#595959" stroke-width="0.2">20.00%</text>
<text transform="translate(37.3,141.85) scale(1,1.08)" text-anchor="end" font-size="8.6" fill="#595959" stroke="#595959" stroke-width="0.2">30.00%</text>
<text transform="translate(37.3,123.75) scale(1,1.08)" text-anchor="end" font-size="8.6" fill="#595959" stroke="#595959" stroke-width="0.2">40.00%</text>
<text transform="translate(37.3,104.65) scale(1,1.08)" text-anchor="end" font-size="8.6" fill="#595959" stroke="#595959" stroke-width="0.2">50.00%</text>
<text transform="translate(37.3,86.25) scale(1,1.08)" text-anchor="end" font-size="8.6" fill="#595959" stroke="#595959" stroke-width="0.2">60.00%</text>
<text transform="translate(37.3,67.65) scale(1,1.08)" text-anchor="end" font-size="8.6" fill="#595959" stroke="#595959" stroke-width="0.2">70.00%</text>
<text transform="translate(37.3,49.25) scale(1,1.08)" text-anchor="end" font-size="8.6" fill="#595959" stroke="#595959" stroke-width="0.2">80.00%</text>
<text transform="translate(37.3,30.45) scale(1,1.08)" text-anchor="end" font-size="8.6" fill="#595959" stroke="#595959" stroke-width="0.2">90.00%</text>
<text transform="translate(37.3,11.95) scale(1,1.08)" text-anchor="end" font-size="8.6" fill="#595959" stroke="#595959" stroke-width="0.2">100.00%</text>
<text transform="translate(47.00,211.3) scale(1,1.1)" text-anchor="middle" font-size="9.0" fill="#595959" stroke="#595959" stroke-width="0.2">0</text>
<text transform="translate(129.40,211.3) scale(1,1.1)" text-anchor="middle" font-size="9.0" fill="#595959" stroke="#595959" stroke-width="0.2">10</text>
<text transform="translate(211.80,211.3) scale(1,1.1)" text-anchor="middle" font-size="9.0" fill="#595959" stroke="#595959" stroke-width="0.2">20</text>
<text transform="translate(294.20,211.3) scale(1,1.1)" text-anchor="middle" font-size="9.0" fill="#595959" stroke="#595959" stroke-width="0.2">30</text>
<text transform="translate(376.60,211.3) scale(1,1.1)" text-anchor="middle" font-size="9.0" fill="#595959" stroke="#595959" stroke-width="0.2">40</text>
<text transform="translate(459.00,211.3) scale(1,1.1)" text-anchor="middle" font-size="9.0" fill="#595959" stroke="#595959" stroke-width="0.2">50</text>
<text transform="translate(541.40,211.3) scale(1,1.1)" text-anchor="middle" font-size="9.0" fill="#595959" stroke="#595959" stroke-width="0.2">60</text>
<text x="436.3" y="211.6" text-anchor="middle" font-size="9.4" fill="#3A3A3A" stroke="#3A3A3A" stroke-width="0.2">48.06</text>
<text x="293.5" y="227" text-anchor="middle" font-size="10.2" fill="#595959" stroke="#595959" stroke-width="0.2">Number of aircraft</text>
<text x="353.7" y="33.9" text-anchor="middle" font-size="8.9" fill="#595959" stroke="#595959" stroke-width="0.2">y = 0.000025475x<tspan dy="-3" font-size="6">2</tspan><tspan dy="3"> + 0.013342191x</tspan></text>
<text x="354.2" y="45.0" text-anchor="middle" font-size="8.9" fill="#595959" stroke="#595959" stroke-width="0.2">R<tspan dy="-3" font-size="6">2</tspan><tspan dy="3"> = 0.892843647</tspan></text>
<text x="276.2" y="178.4" text-anchor="middle" font-size="8.9" fill="#595959" stroke="#595959" stroke-width="0.2">y = 0.000019019x<tspan dy="-3" font-size="6">2</tspan><tspan dy="3"> + 0.009700880x</tspan></text>
<text x="276.4" y="190.4" text-anchor="middle" font-size="8.9" fill="#595959" stroke="#595959" stroke-width="0.2">R<tspan dy="-3" font-size="6">2</tspan><tspan dy="3"> = 0.893233240</tspan></text>
<text x="54.6" y="253.0" font-size="8.9" fill="#7F7F7F" stroke="#7F7F7F" stroke-width="0.2" textLength="29.8" lengthAdjust="spacingAndGlyphs">Legend</text>
<circle cx="100" cy="250.4" r="3.2" fill="#FA6F1E"/>
<text x="117" y="253.6" font-size="8.9" fill="#595959" stroke="#595959" stroke-width="0.2" textLength="25.2" lengthAdjust="spacingAndGlyphs">PC (%)</text>
<circle cx="181" cy="250.4" r="3.2" fill="#FFC000"/>
<text x="198.3" y="253.6" font-size="8.9" fill="#595959" stroke="#595959" stroke-width="0.2" textLength="24.8" lengthAdjust="spacingAndGlyphs">TC (%)</text>
<line x1="236" y1="251.3" x2="263" y2="251.3" stroke="#FA6F1E" stroke-width="1.3" stroke-dasharray="1.3 1.6"/>
<text x="267.2" y="253.6" font-size="8.9" fill="#595959" stroke="#595959" stroke-width="0.2" textLength="53.7" lengthAdjust="spacingAndGlyphs">Poly. (PC (%))</text>
<line x1="344" y1="251.5" x2="371.5" y2="251.5" stroke="#FFC000" stroke-width="1.3" stroke-dasharray="1.3 1.6"/>
<text x="376.8" y="253.6" font-size="8.9" fill="#595959" stroke="#595959" stroke-width="0.2" textLength="51.3" lengthAdjust="spacingAndGlyphs">Poly. (TC (%))</text>
<line x1="439" y1="251" x2="464.4" y2="251" stroke="#030D58" stroke-width="2.6"/>
<text x="469" y="250.0" font-size="8.7" fill="#595959" stroke="#595959" stroke-width="0.2">ATCO WL</text>
<text x="468.4" y="261.9" font-size="8.9" fill="#595959" stroke="#595959" stroke-width="0.2" textLength="41.2" lengthAdjust="spacingAndGlyphs">Threshold</text>
<text x="511" y="255.8" font-size="8.7" fill="#595959" stroke="#595959" stroke-width="0.2">(70%)</text>
</svg>
</body></html>
